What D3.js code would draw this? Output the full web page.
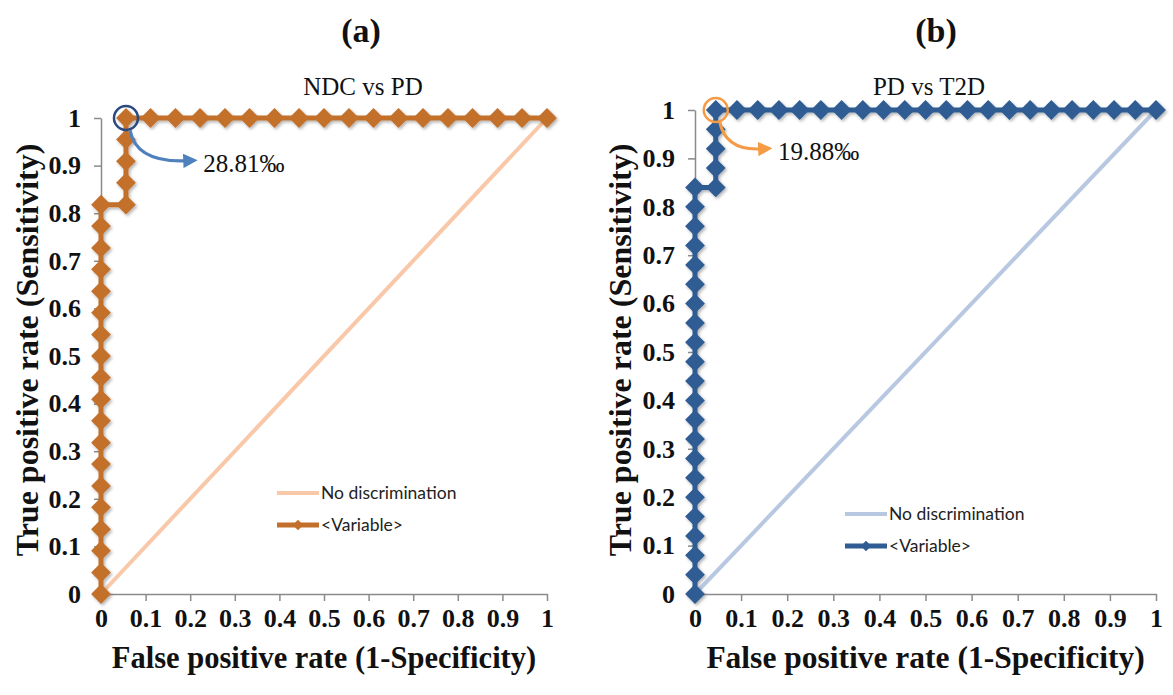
<!DOCTYPE html>
<html>
<head>
<meta charset="utf-8">
<script src="https://d3js.org/d3.v7.min.js"></script>
<style>
  body { margin: 0; padding: 0; background: #fff; }
  svg { display: block; }
  .axis path, .axis line { stroke: #8a8a8a; stroke-width: 1.5; }
  .axis text { font-family: "Liberation Serif", "Times New Roman", serif; font-weight: bold; font-size: 26px; fill: #111; }
  .ttl { font-family: "Liberation Serif", "Times New Roman", serif; fill: #111; }
  .legend text { font-family: Lato, "Liberation Sans", sans-serif; font-size: 17.5px; fill: #222; }
</style>
</head>
<body>
<div id="chart"></div>
<script>
// tick values shared by both axes of both panels
var tickVals = [0, 0.1, 0.2, 0.3, 0.4, 0.5, 0.6, 0.7, 0.8, 0.9, 1];
var tickLabels = ["0", "0.1", "0.2", "0.3", "0.4", "0.5", "0.6", "0.7", "0.8", "0.9", "1"];

// (a) NDC vs PD  - ROC points
var ndcPdFpr = [0, 0, 0, 0, 0, 0, 0, 0, 0, 0, 0, 0, 0, 0, 0, 0, 0, 0, 0,
                0.056, 0.056, 0.056, 0.056, 0.056,
                0.111, 0.167, 0.222, 0.278, 0.333, 0.389, 0.444, 0.5, 0.556, 0.611, 0.667, 0.722, 0.778, 0.833, 0.889, 0.944, 1];
var ndcPdTpr = [0, 0.045, 0.091, 0.136, 0.182, 0.227, 0.273, 0.318, 0.364, 0.409, 0.455, 0.5, 0.545, 0.591, 0.636, 0.682, 0.727, 0.773, 0.818,
                0.818, 0.864, 0.909, 0.955, 1,
                1, 1, 1, 1, 1, 1, 1, 1, 1, 1, 1, 1, 1, 1, 1, 1, 1];

// (b) PD vs T2D - ROC points
var pdT2dFpr = [0, 0, 0, 0, 0, 0, 0, 0, 0, 0, 0, 0, 0, 0, 0, 0, 0, 0, 0, 0, 0, 0,
                0.045, 0.045, 0.045, 0.045, 0.045,
                0.091, 0.136, 0.182, 0.227, 0.273, 0.318, 0.364, 0.409, 0.455, 0.5, 0.545, 0.591, 0.636, 0.682, 0.727, 0.773, 0.818, 0.864, 0.909, 0.955, 1];
var pdT2dTpr = [0, 0.04, 0.08, 0.12, 0.16, 0.2, 0.24, 0.28, 0.32, 0.36, 0.4, 0.44, 0.48, 0.52, 0.56, 0.6, 0.64, 0.68, 0.72, 0.76, 0.8, 0.84,
                0.84, 0.88, 0.92, 0.96, 1,
                1, 1, 1, 1, 1, 1, 1, 1, 1, 1, 1, 1, 1, 1, 1, 1, 1, 1, 1, 1, 1];

// no discrimination diagonal
var diagFpr = [0, 1];
var diagTpr = [0, 1];

var legendLabels = ["No discrimination", "<Variable>"];
var panelLetters = ["(a)", "(b)"];
var panelTitles = ["NDC vs PD", "PD vs T2D"];
var cutoffLabels = ["28.81\u2030", "19.88\u2030"];
var xTitle = "False positive rate (1-Specificity)";
var yTitle = "True positive rate (Sensitivity)";

var W = 1173, H = 695;

var panels = [
  { fpr: ndcPdFpr, tpr: ndcPdTpr, left: 101, right: 547, top: 118, bottom: 594,
    main: "#c2702b", diag: "#f8c8a8", ring: "#2c4a80", arrow: "#4f81bd",
    letterX: 361, titleX: 363, xTitleSize: 30.5, yTitleX: 38,
    noteX: 0.229, noteY: 0.887, legX: 277, legY: 493 },
  { fpr: pdT2dFpr, tpr: pdT2dTpr, left: 695, right: 1156, top: 110, bottom: 594,
    main: "#2f5c93", diag: "#b8c8e1", ring: "#f59a45", arrow: "#f59a45",
    letterX: 936, titleX: 929, xTitleSize: 31.5, yTitleX: 631,
    noteX: 0.18, noteY: 0.897, legX: 845, legY: 514 }
];

var svg = d3.select("#chart").append("svg")
  .attr("width", W)
  .attr("height", H);

var defs = svg.append("defs");
defs.append("filter").attr("id", "shadow")
  .attr("x", "-10%").attr("y", "-10%").attr("width", "130%").attr("height", "130%")
  .append("feDropShadow")
  .attr("dx", 1.5).attr("dy", 1.8)
  .attr("stdDeviation", 1.4)
  .attr("flood-color", "#000")
  .attr("flood-opacity", 0.3);

var diamond = d3.symbol().type(d3.symbolSquare).size(196);
var smallDiamond = d3.symbol().type(d3.symbolSquare).size(56);

panels.forEach(function(p, pi) {
  var x = d3.scaleLinear().domain([0, 1]).range([p.left, p.right]);
  var y = d3.scaleLinear().domain([0, 1]).range([p.bottom, p.top]);
  var g = svg.append("g");

  // axes
  g.append("g")
    .attr("class", "axis")
    .attr("transform", "translate(0," + p.bottom + ")")
    .call(d3.axisBottom(x).tickValues(tickVals).tickSize(7).tickSizeOuter(0).tickPadding(8)
      .tickFormat(function(d, i) { return tickLabels[i]; }));

  g.append("g")
    .attr("class", "axis")
    .attr("transform", "translate(" + p.left + ",0)")
    .call(d3.axisLeft(y).tickValues(tickVals).tickSize(7).tickSizeOuter(0).tickPadding(13)
      .tickFormat(function(d, i) { return tickLabels[i]; }));

  // titles
  g.append("text").attr("class", "ttl")
    .attr("x", p.letterX).attr("y", 42)
    .attr("text-anchor", "middle")
    .style("font-size", "34px").style("font-weight", "bold")
    .text(panelLetters[pi]);

  g.append("text").attr("class", "ttl")
    .attr("x", p.titleX).attr("y", 95)
    .attr("text-anchor", "middle")
    .style("font-size", "25px")
    .text(panelTitles[pi]);

  g.append("text").attr("class", "ttl")
    .attr("x", (p.left + p.right) / 2).attr("y", 668)
    .attr("text-anchor", "middle")
    .style("font-size", p.xTitleSize + "px").style("font-weight", "bold")
    .text(xTitle);

  g.append("text").attr("class", "ttl")
    .attr("transform", "translate(" + p.yTitleX + "," + 350 + ") rotate(-90)")
    .attr("text-anchor", "middle")
    .style("font-size", "32px").style("font-weight", "bold")
    .text(yTitle);

  // no discrimination line
  var diagLine = d3.line()
    .x(function(d, i) { return x(diagFpr[i]); })
    .y(function(d, i) { return y(diagTpr[i]); });
  g.append("path")
    .datum(diagFpr)
    .attr("d", diagLine)
    .attr("fill", "none")
    .attr("stroke", p.diag)
    .attr("stroke-width", 4);

  // ROC curve
  var rocLine = d3.line()
    .x(function(d, i) { return x(p.fpr[i]); })
    .y(function(d, i) { return y(p.tpr[i]); });
  var roc = g.append("g").attr("filter", "url(#shadow)");
  roc.append("path")
    .datum(p.fpr)
    .attr("d", rocLine)
    .attr("fill", "none")
    .attr("stroke", p.main)
    .attr("stroke-width", 5)
    .attr("stroke-linejoin", "round");
  roc.selectAll(".pt")
    .data(p.fpr)
    .enter().append("path")
    .attr("class", "pt")
    .attr("d", diamond)
    .attr("fill", p.main)
    .attr("transform", function(d, i) {
      return "translate(" + x(p.fpr[i]) + "," + y(p.tpr[i]) + ") rotate(45)";
    });

  // cut-off annotation
  var k = p.tpr.indexOf(1);
  var cx = x(p.fpr[k]), cy = y(p.tpr[k]);
  var tx = x(p.noteX), ty = y(p.noteY);

  defs.append("marker")
    .attr("id", "arr" + pi)
    .attr("viewBox", "0 0 10 10")
    .attr("refX", 2).attr("refY", 5)
    .attr("markerWidth", 4.5).attr("markerHeight", 4.5)
    .attr("markerUnits", "strokeWidth")
    .attr("orient", "auto")
    .append("path")
    .attr("d", "M0,0 L10,5 L0,10 Z")
    .attr("fill", p.arrow);

  g.append("circle")
    .attr("cx", cx).attr("cy", cy).attr("r", 12)
    .attr("fill", "none")
    .attr("stroke", p.ring)
    .attr("stroke-width", 2.5);

  var sx = cx + 4, sy = cy + 12, ex = tx - 17, ey = ty - 11;
  g.append("path")
    .attr("d", "M" + sx + "," + sy + " Q" + (sx + 6) + "," + (ey + 2) + " " + ex + "," + ey)
    .attr("fill", "none")
    .attr("stroke", p.arrow)
    .attr("stroke-width", 3.2)
    .attr("marker-end", "url(#arr" + pi + ")");

  g.append("text").attr("class", "ttl")
    .attr("x", tx).attr("y", ty)
    .style("font-size", "25px")
    .text(cutoffLabels[pi]);

  // legend
  var leg = g.append("g").attr("class", "legend");
  leg.append("line")
    .attr("x1", p.legX).attr("x2", p.legX + 42)
    .attr("y1", p.legY).attr("y2", p.legY)
    .attr("stroke", p.diag).attr("stroke-width", 4);
  leg.append("line")
    .attr("x1", p.legX).attr("x2", p.legX + 42)
    .attr("y1", p.legY + 32).attr("y2", p.legY + 32)
    .attr("stroke", p.main).attr("stroke-width", 5);
  leg.append("path")
    .attr("d", smallDiamond)
    .attr("fill", p.main)
    .attr("transform", "translate(" + (p.legX + 21) + "," + (p.legY + 32) + ") rotate(45)");
  leg.selectAll("text")
    .data(legendLabels)
    .enter().append("text")
    .attr("x", p.legX + 44)
    .attr("y", function(d, i) { return p.legY + i * 32; })
    .attr("dy", "0.35em")
    .text(function(d) { return d; });
});
</script>
</body>
</html>
